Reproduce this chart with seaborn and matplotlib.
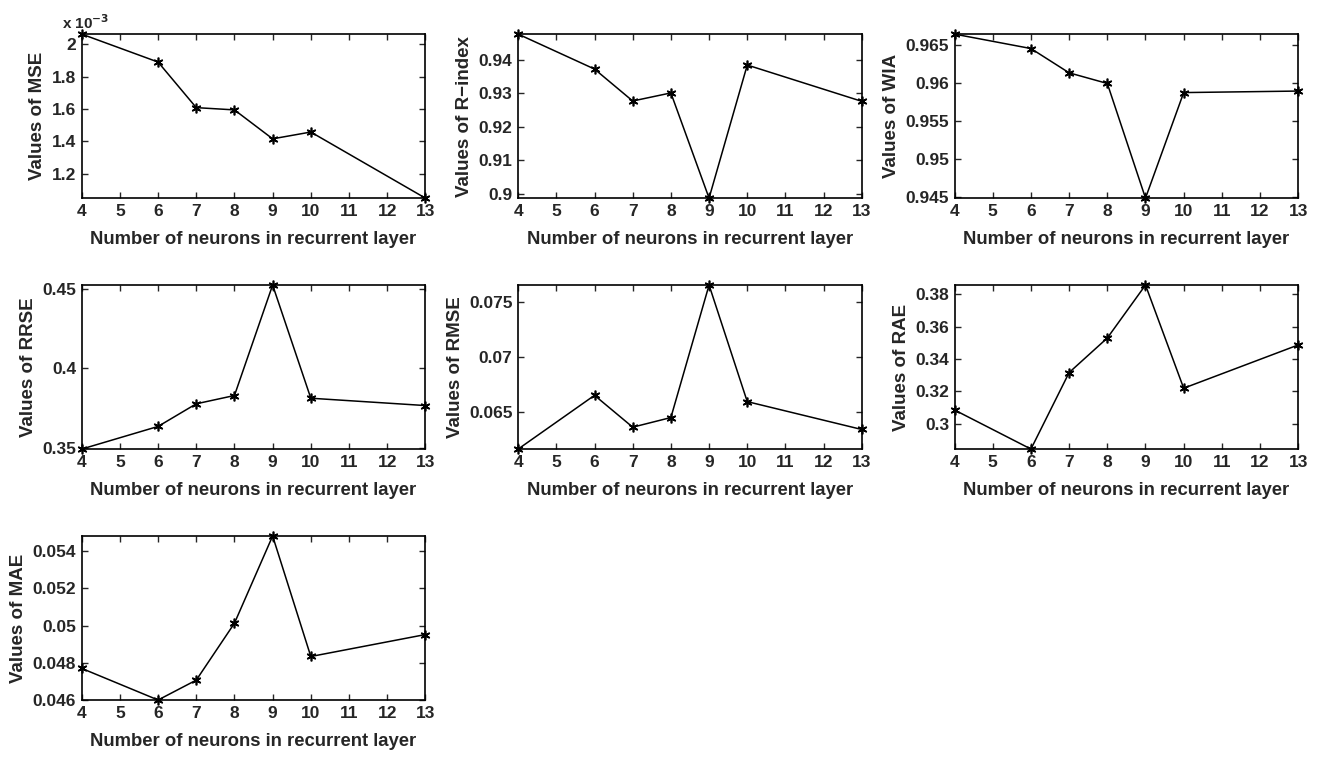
import numpy as np
import pandas as pd
import seaborn as sns
import matplotlib.pyplot as plt
from matplotlib.ticker import MultipleLocator, FuncFormatter

# neurons in the recurrent layer
neurons = [4, 6, 7, 8, 9, 10, 13]

# error / agreement measures
mse = [2.063e-3, 1.890e-3, 1.608e-3, 1.594e-3, 1.415e-3, 1.457e-3, 1.048e-3]
r_index = [0.9476, 0.9372, 0.9277, 0.9301, 0.8988, 0.9384, 0.9276]
wia = [0.9665, 0.9646, 0.9614, 0.9600, 0.9449, 0.9588, 0.9590]
rrse = [0.3494, 0.3636, 0.3778, 0.3830, 0.4523, 0.3813, 0.3767]
rmse = [0.06167, 0.06653, 0.06365, 0.06452, 0.0765, 0.06596, 0.06344]
rae = [0.3084, 0.2842, 0.3316, 0.3530, 0.3858, 0.3219, 0.3487]
mae = [0.04770, 0.04600, 0.04707, 0.05013, 0.05482, 0.04834, 0.04952]

panels = [
    ("MSE", mse, 0.2e-3),
    ("R\u2212index", r_index, 0.01),
    ("WIA", wia, 0.005),
    ("RRSE", rrse, 0.05),
    ("RMSE", rmse, 0.005),
    ("RAE", rae, 0.02),
    ("MAE", mae, 0.002),
]

sns.set_style("ticks")
plt.rcParams['font.family'] = ['Liberation Sans', 'DejaVu Sans']
plt.rcParams['font.weight'] = 'bold'
plt.rcParams['axes.labelweight'] = 'bold'

fig, axes = plt.subplots(3, 3, figsize=(13.18, 7.58), dpi=100)
fig.subplots_adjust(left=0.062, right=0.985, top=0.955, bottom=0.0765,
                    wspace=0.27, hspace=0.53)

# matlab-style asterisk marker
asterisk = (6, 2, 0)

for ax, (name, vals, step) in zip(axes.flat, panels):
    df = pd.DataFrame({"n": neurons, "v": vals})
    sns.lineplot(data=df, x="n", y="v", ax=ax, color="black", linewidth=1.1,
                 marker=asterisk, markersize=7, markeredgecolor="black",
                 markeredgewidth=1.2, clip_on=False)
    ax.set_xlim(4, 13)
    ax.set_ylim(min(vals), max(vals))
    ax.xaxis.set_major_locator(MultipleLocator(1))
    ax.yaxis.set_major_locator(MultipleLocator(step))
    if name == "MSE":
        ax.yaxis.set_major_formatter(FuncFormatter(lambda v, p: f"{round(v * 1e3, 6):g}"))
        ax.text(0.01, 1.015, r"x 10$^{-3}$", transform=ax.transAxes,
                ha="center", va="bottom", fontsize=11, fontweight="bold")
    else:
        ax.yaxis.set_major_formatter(FuncFormatter(lambda v, p: f"{round(v, 6):g}"))
    ax.tick_params(direction="in", top=True, right=True, length=4, width=1,
                   labelsize=12.5, pad=4)
    for lab in ax.get_xticklabels() + ax.get_yticklabels():
        lab.set_fontweight("bold")
    for sp in ax.spines.values():
        sp.set_linewidth(1.2)
        sp.set_color("black")
    ax.set_xlabel("Number of neurons in recurrent layer", fontsize=13.3, labelpad=9)
    ax.set_ylabel(f"Values of {name}", fontsize=13.5, labelpad=4)

for ax in axes.flat[len(panels):]:
    ax.axis("off")

fig.savefig("out.png", dpi=100)
